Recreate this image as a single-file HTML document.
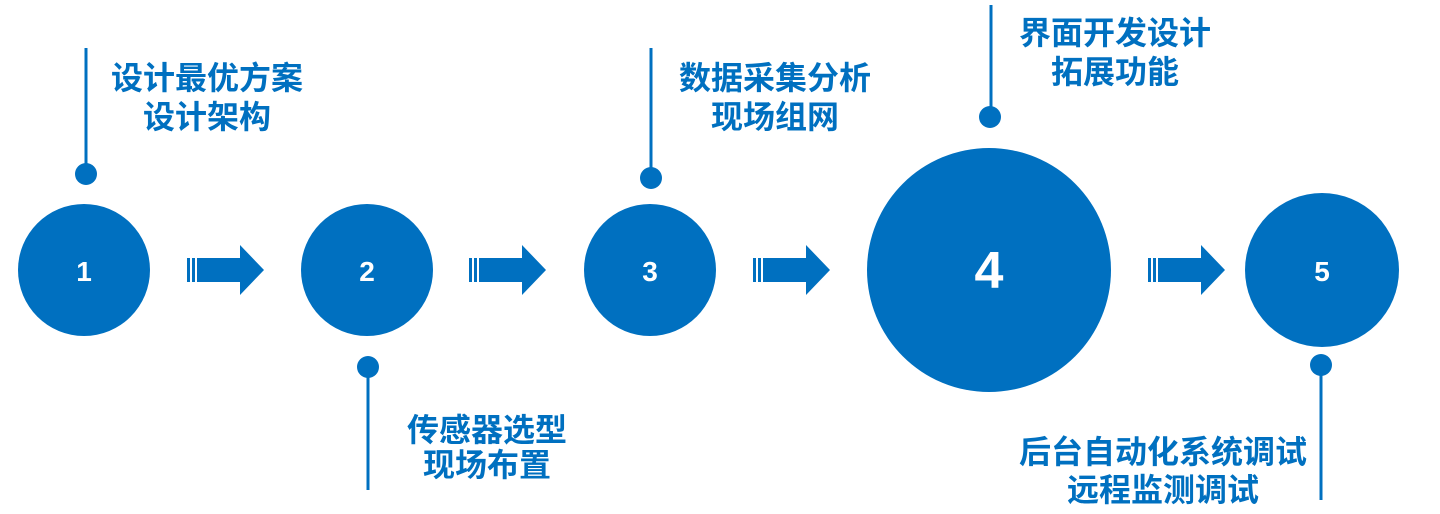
<!DOCTYPE html>
<html><head><meta charset="utf-8"><style>
html,body{margin:0;padding:0;background:#fff;width:1440px;height:514px;overflow:hidden}
text{font-family:"Liberation Sans","Noto Sans CJK SC",sans-serif;font-weight:bold}
</style></head><body>
<svg width="1440" height="514" viewBox="0 0 1440 514" xmlns="http://www.w3.org/2000/svg">
<defs>
<g id="arr" fill="#0070C0">
<rect x="0" y="258" width="3" height="24"/>
<rect x="5" y="258" width="3" height="24"/>
<rect x="10" y="258" width="45" height="24"/>
<polygon points="53,245 77,270 53,295"/>
</g>
</defs>
<g stroke="#0070C0" stroke-width="3">
<line x1="86" y1="48" x2="86" y2="174"/>
<line x1="368" y1="367" x2="368" y2="490"/>
<line x1="651" y1="48" x2="651" y2="178"/>
<line x1="991" y1="5" x2="991" y2="117"/>
<line x1="1321" y1="365" x2="1321" y2="500"/>
</g>
<g fill="#0070C0">
<circle cx="84" cy="270" r="66"/>
<circle cx="367" cy="270" r="66"/>
<circle cx="650" cy="270" r="66"/>
<circle cx="989" cy="270" r="122"/>
<circle cx="1322" cy="270" r="77"/>
<circle cx="86" cy="174" r="11"/>
<circle cx="368" cy="367" r="11"/>
<circle cx="651" cy="178" r="11"/>
<circle cx="990" cy="117" r="11"/>
<circle cx="1321" cy="365" r="11"/>
</g>
<use href="#arr" x="187"/>
<use href="#arr" x="469"/>
<use href="#arr" x="753"/>
<use href="#arr" x="1148"/>
<g fill="#fff" text-anchor="middle">
<text x="84" y="281" font-size="28">1</text>
<text x="367" y="281" font-size="28">2</text>
<text x="650" y="281" font-size="28">3</text>
<text x="989" y="288" font-size="52">4</text>
<text x="1322" y="281" font-size="28">5</text>
</g>
<g fill="#0070C0" text-anchor="middle" font-size="32">
<text x="207" y="89">设计最优方案</text>
<text x="207" y="128">设计架构</text>
<text x="487" y="441">传感器选型</text>
<text x="487" y="476">现场布置</text>
<text x="775" y="89">数据采集分析</text>
<text x="775" y="128">现场组网</text>
<text x="1115" y="44">界面开发设计</text>
<text x="1115" y="83">拓展功能</text>
<text x="1163" y="463">后台自动化系统调试</text>
<text x="1163" y="501">远程监测调试</text>
</g>
</svg>
</body></html>
